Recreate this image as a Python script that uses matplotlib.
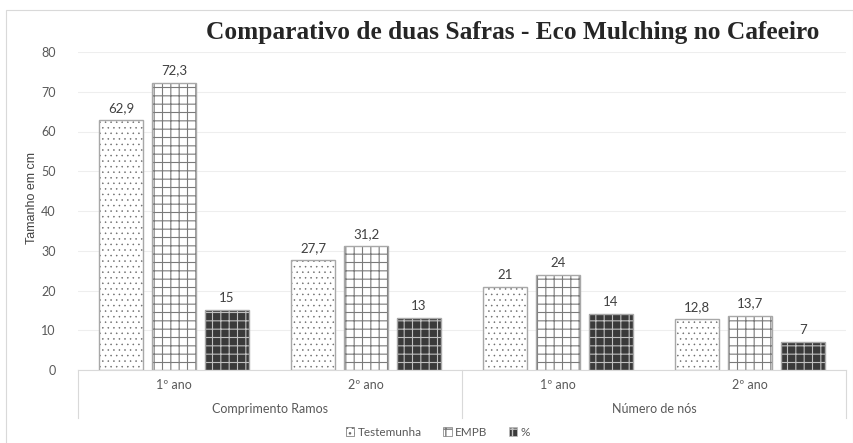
import matplotlib
matplotlib.use("Agg")
import matplotlib.pyplot as plt
import numpy as np
from matplotlib.patches import Patch, Rectangle
from matplotlib.lines import Line2D

# ---- data ----
groups = ["Comprimento Ramos", "Número de nós"]
categories = ["1º ano", "2º ano", "1º ano", "2º ano"]
series_names = ["Testemunha", "EMPB", "%"]
testemunha = [62.9, 27.7, 21, 12.8]
empb = [72.3, 31.2, 24, 13.7]
pct = [15, 13, 14, 7]
labels_testemunha = ["62,9", "27,7", "21", "12,8"]
labels_empb = ["72,3", "31,2", "24", "13,7"]
labels_pct = ["15", "13", "14", "7"]
yticks = [0, 10, 20, 30, 40, 50, 60, 70, 80]

W, H = 854, 443
fig = plt.figure(figsize=(W / 100, H / 100), dpi=100)
fig.patch.set_facecolor("white")

# outer chart border
fig.add_artist(Rectangle((6 / W, -0.01), (W - 7) / W, (H - 10) / H + 0.01, transform=fig.transFigure,
                         fill=False, edgecolor="#d9d9d9", linewidth=0.8))

ax = fig.add_axes([78 / W, (H - 370) / H, (846 - 78) / W, (370 - 52) / H])
ax.set_xlim(-0.5, 3.5)
ax.set_ylim(0, 80)

x = np.arange(len(categories))
step = 0.276
bw = 0.229
styles = [
    dict(face="white", hatch="...", hcolor="#6a6a6a", hlw=0.35),
    dict(face="white", hatch="++", hcolor="#7a7a7a", hlw=0.8),
    dict(face="#3a3a3a", hatch="++", hcolor="#c0c0c0", hlw=0.8),
]
all_vals = [testemunha, empb, pct]
all_labels = [labels_testemunha, labels_empb, labels_pct]
for i, (vals, labs, st) in enumerate(zip(all_vals, all_labels, styles)):
    xs = x + (i - 1) * step
    with plt.rc_context({"hatch.linewidth": st["hlw"]}):
        ax.bar(xs, vals, bw, color=st["face"], hatch=st["hatch"], edgecolor=st["hcolor"], linewidth=0, zorder=2)
    ax.bar(xs, vals, bw, fill=False, edgecolor="#a8a8a8", linewidth=1.0, zorder=3)
    for xx, v, lab in zip(xs, vals, labs):
        ax.text(xx, v + 1.5, lab, ha="center", va="bottom", fontsize=9.5, color="#404040", family="Lato")

ax.set_yticks(yticks)
ax.set_yticklabels([str(t) for t in yticks], fontsize=9, color="#595959", family="Lato")
ax.tick_params(axis="y", length=0, pad=16)
ax.set_xticks([])
ax.yaxis.grid(True, color="#eeeeee", linewidth=0.8, zorder=0)
ax.set_axisbelow(True)
for s in ["top", "right", "left"]:
    ax.spines[s].set_visible(False)
ax.spines["bottom"].set_color("#d9d9d9")
ax.spines["bottom"].set_linewidth(0.8)

ax.set_ylabel("Tamanho em cm", fontsize=9, color="#404040", family="Liberation Sans")
ax.yaxis.set_label_coords(-0.052, 0.54)

# category labels
trans = ax.get_xaxis_transform()
y_cat = -(385 - 370) / (370 - 52)
y_grp = -(409 - 370) / (370 - 52)
y_sep = -(418 - 370) / (370 - 52)
for xi, c in zip(x, categories):
    ax.text(xi, y_cat, c, ha="center", va="center", fontsize=9, color="#595959", family="Lato", transform=trans)
for gi, g in enumerate(groups):
    ax.text(0.5 + 2 * gi, y_grp, g, ha="center", va="center", fontsize=9, color="#595959", family="Lato", transform=trans)
for xs_ in [-0.5, 1.5, 3.5]:
    ax.add_line(Line2D([xs_, xs_], [0, y_sep], transform=trans, color="#d9d9d9", linewidth=0.8, clip_on=False))

# title
fig.text(513 / W, 1 - 33 / H, "Comparativo de duas Safras - Eco Mulching no Cafeeiro",
         ha="center", va="center", fontsize=18.3, fontweight="bold", color="#262626",
         family="Liberation Serif")

# legend
with plt.rc_context({"hatch.linewidth": 0.4}):
    handles = [Patch(facecolor=st["face"], hatch=st["hatch"], edgecolor=st["hcolor"], linewidth=0.5) for st in styles]
leg = fig.legend(handles, series_names, loc="center", bbox_to_anchor=(438 / W, 1 - 432 / H), ncol=3,
                 frameon=False, handlelength=0.7, handleheight=0.7, handletextpad=0.3,
                 columnspacing=1.8, prop={"family": "Lato", "size": 8.5})
for t in leg.get_texts():
    t.set_color("#595959")

fig.savefig("out.png", dpi=100)
